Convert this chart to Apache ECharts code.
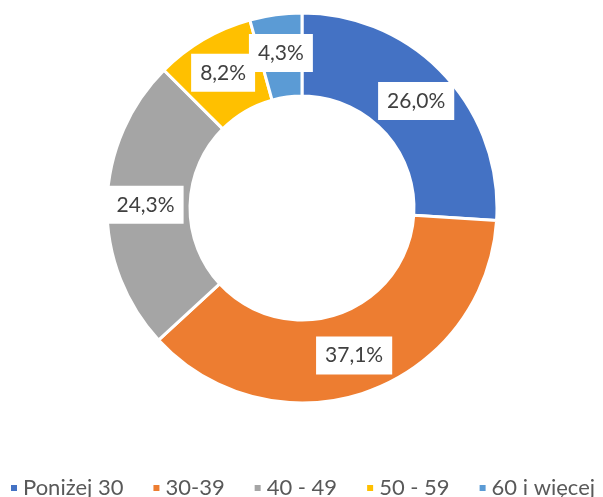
<!DOCTYPE html>
<html><head><meta charset="utf-8">
<script src="https://cdn.jsdelivr.net/npm/echarts@6/dist/echarts.min.js"></script>
<style>html,body{margin:0;padding:0;background:#fff}#c{width:603px;height:497px}</style>
</head><body><div id="c"></div>
<script>
const categories = ['Poniżej 30', '30-39', '40 - 49', '50 - 59', '60 i więcej'];
const values = [26.0, 37.1, 24.3, 8.2, 4.3];
const colors = ['#4472C4', '#ED7D31', '#A5A5A5', '#FFC000', '#5B9BD5'];

const chart = echarts.init(document.getElementById('c'));
chart.setOption({
  animation: false,
  color: colors,
  legend: {
    data: categories,
    left: 9, top: 477, width: 900, padding: 0,
    icon: 'rect', itemWidth: 8, itemHeight: 8, itemGap: 28,
    textStyle: { fontFamily: 'Lato', fontSize: 22, color: '#595959' }
  },
  series: [{
    type: 'pie',
    center: [302, 208],
    radius: [112, 195],
    startAngle: 90,
    clockwise: true,
    avoidLabelOverlap: false,
    itemStyle: { borderColor: '#fff', borderWidth: 3 },
    labelLayout: { hideOverlap: false },
    label: {
      show: true, position: 'inside',
      formatter: p => p.value.toFixed(1).replace('.', ',') + '%',
      fontFamily: 'Lato', fontSize: 21, color: '#404040',
      backgroundColor: '#fff', padding: [9, 9, 8, 9]
    },
    labelLine: { show: false },
    data: categories.map((c, i) => ({ name: c, value: values[i] }))
  }]
});
</script></body></html>
